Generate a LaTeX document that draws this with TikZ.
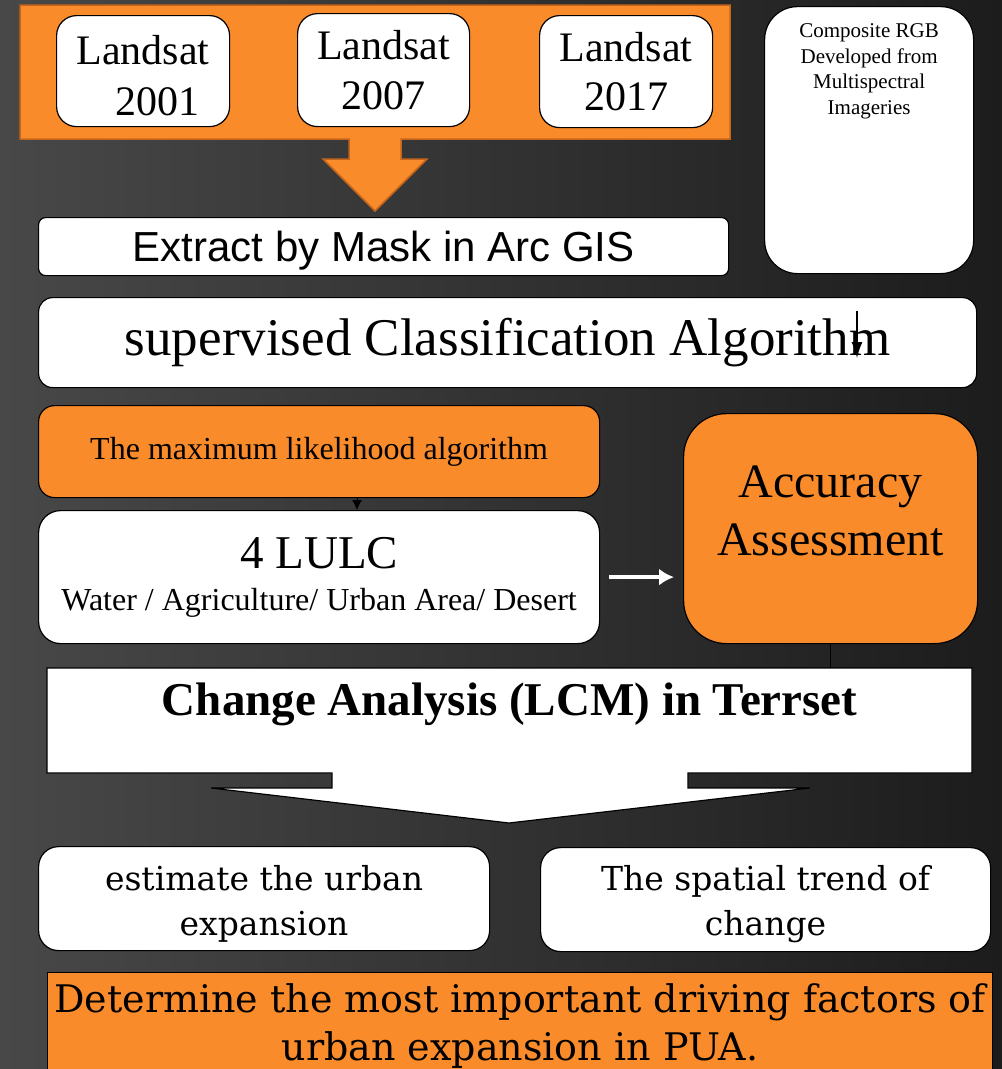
\documentclass[tikz,border=0pt]{standalone}
\usepackage{fontspec}
\setmainfont{Liberation Serif}
\newfontfamily\arialfont{Liberation Sans}
\newfontfamily\slabfont{DejaVu Serif}
\usetikzlibrary{arrows.meta}
\definecolor{flowOrange}{HTML}{F98B2B}
\definecolor{flowEdge}{HTML}{C4651B}
\definecolor{bgLeft}{HTML}{484848}
\definecolor{bgRight}{HTML}{1C1C1C}
\newcommand{\toptext}[4]{\parbox[c][#2][t]{#1}{\centering\vspace*{#3}#4}}

\begin{document}
\begin{tikzpicture}[x=1pt,y=-1pt,
  wbox/.style={draw=black,line width=1.2pt,fill=white,rounded corners=#1,
    inner sep=0pt,anchor=north west,align=center},
  wbox/.default=12pt,
  obox/.style={wbox=#1,fill=flowOrange},
  obox/.default=12pt]
%
\def\lw{1.2pt};
\def\fs#1#2{\fontsize{#1}{#2}\selectfont};
%
\useasboundingbox (0,0) rectangle (1002,1069);
\clip (0,0) rectangle (1002,1069);
\shade[left color=bgLeft,right color=bgRight] (0,0) rectangle (1002,1069);
%
% orange panel with its arrow
\draw[fill=flowOrange,draw=flowEdge,line width=1.5pt]
  (20,5)--(730,5)--(730,139)--(401,139)--(401,159)--(427,159)--(375,211)
  --(323,159)--(349,159)--(349,139)--(20,139)--cycle;
%
\node[wbox=20pt,minimum width=173,minimum height=111,font=\fs{42}{51}] (ls01) at (56,15)
  {\rule{0pt}{38pt}Landsat\\\hspace*{28pt}2001};
\node[wbox=20pt,minimum width=172,minimum height=113,font=\fs{42}{50}] (ls07) at (297,13)
  {Landsat\\2007};
\node[wbox=20pt,minimum width=173,minimum height=112,font=\fs{42}{49}] (ls17) at (539,15)
  {Landsat\\2017};
%
\node[wbox=7pt,minimum width=690,minimum height=58,font=\arialfont\fs{42}{50},text depth=0pt] (mask) at (38,217)
  {Extract by Mask in Arc GIS};
\node[wbox=33pt,minimum width=209,minimum height=267,font=\fs{21}{25.5}] (rgb) at (764,6)
  {\toptext{209pt}{267pt}{17pt}{Composite RGB\\Developed from\\Multispectral\\Imageries}};
%
\node[wbox=14pt,minimum width=938,minimum height=90,font=\fs{53}{60}] (sca) at (38,297)
  {supervised Classification Algorithm};
\coordinate (scaA) at (857,311);
\coordinate (scaB) at (857,358);
\draw[line width=1.2pt,-{Latex[length=16pt,width=11pt]}] (scaA)--(scaB);
%
\node[obox=16pt,minimum width=561,minimum height=92,font=\fs{32}{40}] (mlh) at (38,405)
  {The maximum likelihood algorithm};
\node[wbox=22pt,minimum width=561,minimum height=133,font=\fs{32}{42}] (lulc) at (38,510)
  {{\fs{47}{47}4 LULC}\\Water / Agriculture/ Urban Area/ Desert};
\coordinate (mlhx) at (357,0);
\draw[line width=0.8pt,-{Latex[length=10pt,width=10pt]}] (mlh.south -| mlhx)--(lulc.north -| mlhx);
%
\node[obox=43pt,minimum width=294,minimum height=230,font=\fs{48}{58}] (acc) at (683,413)
  {Accuracy\\Assessment\rule[-36pt]{0pt}{0pt}};
\draw[white,line width=4pt,-{Latex[length=15pt,width=17pt]},shorten <=9pt,shorten >=9pt]
  (lulc.east)--(lulc.east -| acc.west);
%
% change analysis with its arrow
\draw[fill=white,draw=black,line width=\lw]
  (47,668)--(972,668)--(972,773)--(688,773)--(688,788)--(810,788)--(509,823)
  --(211,788)--(332,788)--(332,773)--(47,773)--cycle;
\node[anchor=north west,inner sep=0pt,minimum width=925,minimum height=105,font=\bfseries\fs{47}{55}] (lcm) at (47,668)
  {\toptext{925pt}{105pt}{15pt}{Change Analysis (LCM) in Terrset}};
\draw[line width=1.5pt] (acc.south)--(acc.south |- lcm.north);
%
\node[wbox=20pt,minimum width=451,minimum height=104,font=\slabfont\fs{33}{45}] (urb) at (38,846)
  {\rule{0pt}{35pt}estimate the urban\\expansion};
\node[wbox=20pt,minimum width=450,minimum height=104,font=\slabfont\fs{33}{45}] (trend) at (540,847)
  {\rule{0pt}{35pt}The spatial trend of\\change};
%
\node[obox=0pt,minimum width=945,minimum height=120,font=\slabfont\fs{38}{48}] (drv) at (47,972)
  {\toptext{945pt}{120pt}{11pt}{Determine the most important driving factors of\\urban expansion in PUA.}};
%
\end{tikzpicture}
\end{document}
